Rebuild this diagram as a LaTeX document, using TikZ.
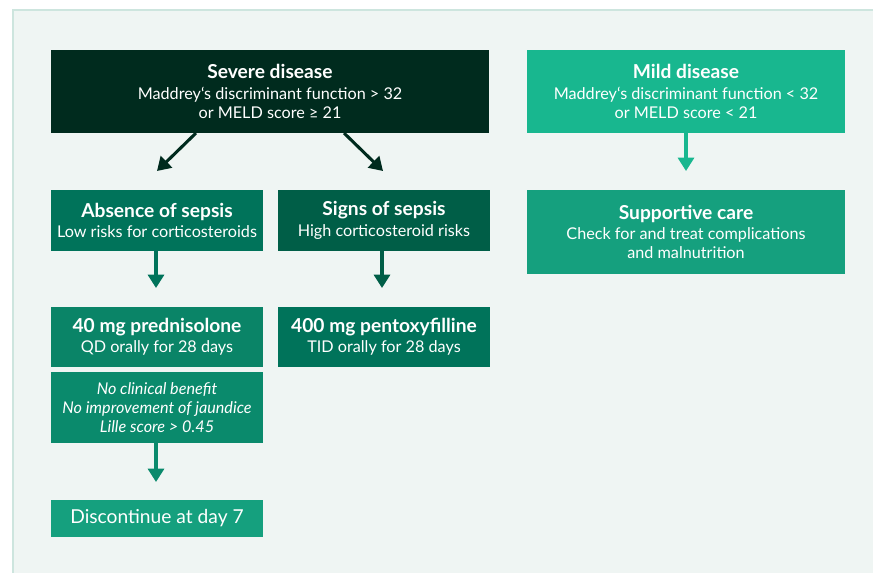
\documentclass[tikz,border=0pt]{standalone}
\usepackage{fontspec}
\setmainfont{Lato}
\usetikzlibrary{arrows.meta}
\definecolor{panelbg}{HTML}{EFF5F3}
\definecolor{panelline}{HTML}{CDE5DE}
\definecolor{cSevere}{HTML}{002B1E}
\definecolor{cMild}{HTML}{18B78F}
\definecolor{cAbs}{HTML}{00735A}
\definecolor{cSigns}{HTML}{005E47}
\definecolor{cPred}{HTML}{0A8467}
\definecolor{cPento}{HTML}{00735A}
\definecolor{cNoBen}{HTML}{0A8A6C}
\definecolor{cDisc}{HTML}{15A07E}
\definecolor{cSupp}{HTML}{15A07E}
\tikzset{
  box/.style={rectangle, inner sep=0pt, text=white, align=center, font=\fontsize{12.15pt}{14.3pt}\selectfont},
  conn/.style={line width=2.3pt, -{Triangle[width=12pt,length=10pt]}},
}
\newcommand{\ttl}[1]{{\fontsize{14.4pt}{16pt}\selectfont\bfseries #1}}
\begin{document}
\begin{tikzpicture}[x=0.75pt,y=-0.75pt]
\useasboundingbox (0,0) rectangle (873,572);
\draw[fill=panelbg, draw=panelline, line width=1pt] (13,10) rectangle (880,580);

\node[box, fill=cSevere, minimum width=438*0.75pt, minimum height=83*0.75pt] (severe) at (270,91.5)
  {\ttl{Severe disease}\\[1pt] Maddrey‘s discriminant function > 32\\ or MELD score ≥ 21};
\node[box, fill=cMild, minimum width=318*0.75pt, minimum height=83*0.75pt] (mild) at (686,91.5)
  {\ttl{Mild disease}\\[1pt] Maddrey‘s discriminant function < 32\\ or MELD score < 21};
\node[box, fill=cAbs, minimum width=212*0.75pt, minimum height=61*0.75pt] (absence) at (157,220.5)
  {\ttl{Absence of sepsis}\\[1pt] Low risks for corticosteroids};
\node[box, fill=cSigns, minimum width=212*0.75pt, minimum height=61*0.75pt] (signs) at (384,220.5)
  {\ttl{Signs of sepsis}\\[1pt] High corticosteroid risks};
\node[box, fill=cSupp, minimum width=318*0.75pt, minimum height=84*0.75pt] (supp) at (686,232)
  {\ttl{Supportive care}\\[1pt] Check for and treat complications\\ and malnutrition};
\node[box, fill=cPred, minimum width=212*0.75pt, minimum height=60*0.75pt] (pred) at (157,337)
  {\ttl{40 mg prednisolone}\\[1pt] QD orally for 28 days};
\node[box, fill=cPento, minimum width=212*0.75pt, minimum height=60*0.75pt] (pento) at (384,337)
  {\ttl{400 mg pentoxyfilline}\\[1pt] TID orally for 28 days};
\node[box, fill=cNoBen, minimum width=212*0.75pt, minimum height=71*0.75pt, font=\fontsize{12.15pt}{14.3pt}\selectfont\itshape] (noben) at (157,407.5)
  {No clinical benefit\\ No improvement of jaundice\\ Lille score > 0.45};
\node[box, fill=cDisc, minimum width=212*0.75pt, minimum height=37*0.75pt, font=\fontsize{14.4pt}{16pt}\selectfont] (disc) at (157,518.5)
  {Discontinue at day 7};

\coordinate (sevL) at (196,133);
\coordinate (sevR) at (344,133);
\coordinate (tipL) at (157,171);
\coordinate (tipR) at (383,171);
\coordinate (tipMild) at (686,171);
\coordinate (tipAbs) at (156,288);
\coordinate (tipSigns) at (382,288);
\coordinate (tipNoBen) at (156,482);

\draw[conn, cSevere] (sevL) -- (tipL);
\draw[conn, cSevere] (sevR) -- (tipR);
\draw[conn, cMild] (mild.south) -- (tipMild);
\draw[conn, cAbs] (absence.south -| tipAbs) -- (tipAbs);
\draw[conn, cSigns] (signs.south -| tipSigns) -- (tipSigns);
\draw[conn, cNoBen] (noben.south -| tipNoBen) -- (tipNoBen);
\end{tikzpicture}
\end{document}
